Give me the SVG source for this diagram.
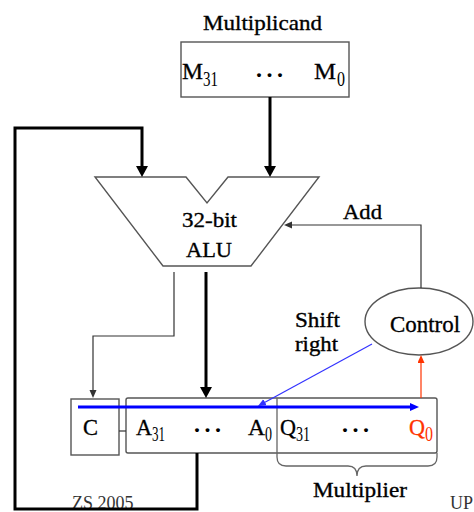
<svg xmlns="http://www.w3.org/2000/svg" width="474" height="512" viewBox="0 0 474 512">
  <style>
    .lbl { font-family: "Liberation Serif", "Times New Roman", serif; font-size: 22px; fill: #000; stroke: #000; stroke-width: 0.35px; }
    .reg { font-family: "Liberation Serif", "Times New Roman", serif; font-size: 24px; fill: #000; stroke: #000; stroke-width: 0.3px; }
    .sub { font-family: "Liberation Serif", "Times New Roman", serif; font-size: 20px; fill: #000; }
    .dots { font-family: "Liberation Serif", "Times New Roman", serif; font-weight: bold; font-size: 24px; letter-spacing: 4.5px; fill: #000; }
    .foot { font-family: "Liberation Serif", "Times New Roman", serif; font-size: 18px; fill: #333; }
    .q0 { fill: #ff3300; stroke: #ff3300; }
    .box { fill: #fff; stroke: #555; stroke-width: 1.4; }
    .thick { fill: none; stroke: #000; stroke-width: 3; }
    .thin { fill: none; stroke: #333; stroke-width: 1.2; }
    .red { fill: none; stroke: #ff3300; stroke-width: 1.2; }
    .blue { fill: none; stroke: #0000ff; stroke-width: 3; }
    .bluethin { fill: none; stroke: #3333ff; stroke-width: 1.2; }
    .brace { fill: none; stroke: #666; stroke-width: 1.3; }
  </style>
  <defs>
    <marker id="ah-thick" markerUnits="userSpaceOnUse" markerWidth="12" markerHeight="12" refX="2" refY="6" orient="auto">
      <path d="M0,0 L11,6 L0,12 z" fill="#000"/>
    </marker>
    <marker id="ah-thin" markerUnits="userSpaceOnUse" markerWidth="9" markerHeight="8" refX="1" refY="3.5" orient="auto">
      <path d="M0,0 L8,3.5 L0,7 z" fill="#333"/>
    </marker>
    <marker id="ah-red" markerUnits="userSpaceOnUse" markerWidth="9" markerHeight="8" refX="1" refY="3.5" orient="auto">
      <path d="M0,0 L8,3.5 L0,7 z" fill="#ff3300"/>
    </marker>
    <marker id="ah-blue" markerUnits="userSpaceOnUse" markerWidth="10" markerHeight="9" refX="1" refY="4" orient="auto">
      <path d="M0,0 L9,4 L0,8 z" fill="#0000ff"/>
    </marker>
    <marker id="ah-bluethin" markerUnits="userSpaceOnUse" markerWidth="9" markerHeight="8" refX="1" refY="3.5" orient="auto">
      <path d="M0,0 L8,3.5 L0,7 z" fill="#3333ff"/>
    </marker>
  </defs>

  <rect width="474" height="512" fill="#fff"/>

  <!-- footer texts sit under the return loop -->
  <text class="foot" x="72" y="509">ZS 2005</text>
  <text class="foot" x="450" y="509">UP</text>

  <!-- Multiplicand register -->
  <g id="multiplicand">
    <text class="lbl" x="203" y="30" textLength="119" lengthAdjust="spacingAndGlyphs">Multiplicand</text>
    <rect class="box" x="181" y="42" width="168" height="55"/>
    <text class="reg" x="182" y="79" textLength="21" lengthAdjust="spacingAndGlyphs">M</text>
    <text class="sub" x="203" y="86" textLength="15" lengthAdjust="spacingAndGlyphs">31</text>
    <text class="dots" x="256" y="77">...</text>
    <text class="reg" x="314" y="79" textLength="22" lengthAdjust="spacingAndGlyphs">M</text>
    <text class="sub" x="337" y="86" textLength="8" lengthAdjust="spacingAndGlyphs">0</text>
  </g>

  <!-- 32-bit ALU -->
  <g id="alu">
    <path class="box" d="M95,177 H186 L207,203 L228,177 H319 L251,266 H163 Z"/>
    <text class="lbl" x="182" y="227" textLength="55" lengthAdjust="spacingAndGlyphs">32-bit</text>
    <text class="lbl" x="186" y="257" textLength="46" lengthAdjust="spacingAndGlyphs">ALU</text>
  </g>

  <!-- Control unit -->
  <g id="control">
    <ellipse class="box" cx="419" cy="321.5" rx="54" ry="33.5"/>
    <text class="lbl" x="390" y="332" textLength="70" lengthAdjust="spacingAndGlyphs" style="font-size:24px">Control</text>
  </g>

  <!-- Carry flip-flop -->
  <g id="carry">
    <rect class="box" x="71" y="399" width="48" height="56"/>
    <text class="reg" x="83" y="435" textLength="15" lengthAdjust="spacingAndGlyphs">C</text>
  </g>

  <!-- A:Q shift register -->
  <g id="aq-register">
    <rect class="box" x="126" y="398" width="311" height="55" rx="2"/>
    <text class="reg" x="136" y="435" textLength="16" lengthAdjust="spacingAndGlyphs">A</text>
    <text class="sub" x="152" y="441" textLength="13" lengthAdjust="spacingAndGlyphs">31</text>
    <text class="dots" x="194" y="432">...</text>
    <text class="reg" x="248" y="435" textLength="17" lengthAdjust="spacingAndGlyphs">A</text>
    <text class="sub" x="265" y="441" textLength="7" lengthAdjust="spacingAndGlyphs">0</text>
    <text class="reg" x="280" y="435" textLength="16" lengthAdjust="spacingAndGlyphs">Q</text>
    <text class="sub" x="296" y="441" textLength="14" lengthAdjust="spacingAndGlyphs">31</text>
    <text class="dots" x="342" y="432">...</text>
    <text class="reg q0" x="409" y="435" textLength="16" lengthAdjust="spacingAndGlyphs">Q</text>
    <text class="sub q0" x="425" y="441" textLength="8" lengthAdjust="spacingAndGlyphs" style="stroke:none">0</text>
  </g>

  <!-- Multiplier brace under Q -->
  <g id="multiplier">
    <path class="brace" d="M277,398 V457 Q277,466 286,466 H348 Q357,466 357,476 Q357,466 366,466 H428 Q437,466 437,457 V453"/>
    <text class="lbl" x="313" y="497" textLength="94" lengthAdjust="spacingAndGlyphs">Multiplier</text>
  </g>

  <!-- Labels on the control signals -->
  <g id="signal-labels">
    <text class="lbl" x="343" y="219" textLength="39" lengthAdjust="spacingAndGlyphs">Add</text>
    <text class="lbl" x="295" y="327" textLength="45" lengthAdjust="spacingAndGlyphs" style="font-size:21px">Shift</text>
    <text class="lbl" x="295" y="351" textLength="43" lengthAdjust="spacingAndGlyphs" style="font-size:21px">right</text>
  </g>

  <!-- Connectors -->
  <g id="connectors">
    <line class="thick" x1="270" y1="97" x2="270" y2="168" marker-end="url(#ah-thick)"/>
    <path class="thick" d="M197,453 V509 H15 V128 H142 V168" marker-end="url(#ah-thick)"/>
    <line class="thick" x1="206" y1="272" x2="206" y2="389" marker-end="url(#ah-thick)"/>
    <path class="thin" d="M174,272 V336 H93 V391" marker-end="url(#ah-thin)"/>
    <line class="thin" x1="119" y1="431" x2="126" y2="431"/>
    <path class="thin" d="M421,288 V225 H291" marker-end="url(#ah-thin)"/>
    <line class="red" x1="421" y1="398" x2="421" y2="362" marker-end="url(#ah-red)"/>
    <line class="bluethin" x1="372" y1="344" x2="264.1" y2="402.7" marker-end="url(#ah-bluethin)"/>
    <line class="blue" x1="78" y1="407" x2="411" y2="407" marker-end="url(#ah-blue)"/>
  </g>
</svg>
